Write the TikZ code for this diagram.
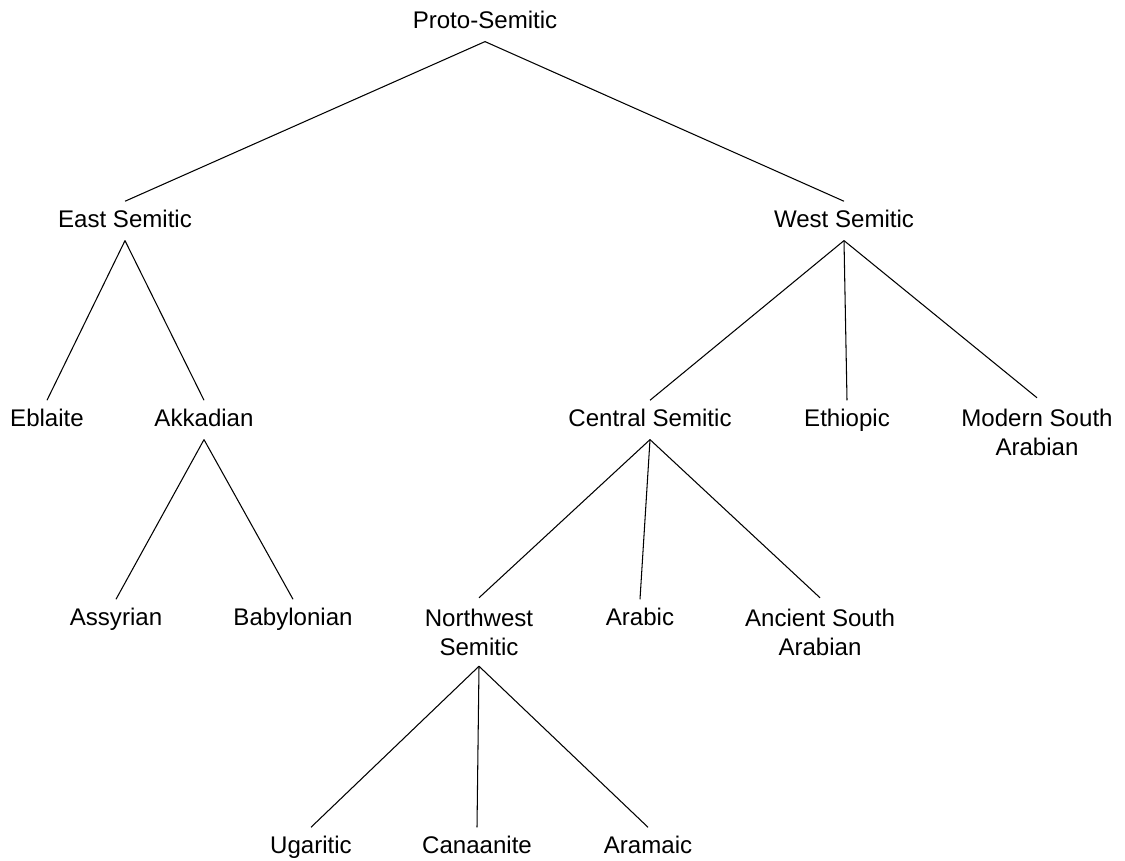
\documentclass[tikz,border=0pt]{standalone}
\usepackage{fontspec}
\setmainfont{Liberation Sans}

\begin{document}
\begin{tikzpicture}[x=0.02cm, y=-0.02cm,
	lang/.style={inner xsep=2pt, inner ysep=4.5pt, text height=10pt, text depth=3pt, yshift=-1.1pt, font=\fontsize{13.7}{16.5}\selectfont},
	langtwo/.style={inner xsep=2pt, inner ysep=6pt, align=center, font=\fontsize{13.7}{16.5}\selectfont},
	branch/.style={line width=0.6pt}]
	\useasboundingbox (0,0) rectangle (1125,861);

	\node[lang] (proto) at (485,20) {Proto-Semitic};

	\node[lang] (east) at (125,219) {East Semitic};
	\node[lang] (west) at (844,219) {West Semitic};

	\node[lang] (eblaite) at (47,418) {Eblaite};
	\node[lang] (akkadian) at (204,418) {Akkadian};
	\node[lang] (central) at (650,418) {Central Semitic};
	\node[lang] (ethiopic) at (847,418) {Ethiopic};
	\node[langtwo] (msa) at (1037,432) {Modern South\\Arabian};

	\node[lang] (assyrian) at (116,617) {Assyrian};
	\node[lang] (babylonian) at (293,617) {Babylonian};
	\node[langtwo] (northwest) at (479,632) {Northwest\\Semitic};
	\node[lang] (arabic) at (640,617) {Arabic};
	\node[langtwo] (asa) at (820,632) {Ancient South\\Arabian};

	\node[lang] (ugaritic) at (311,845) {Ugaritic};
	\node[lang] (canaanite) at (477,845) {Canaanite};
	\node[lang] (aramaic) at (648,845) {Aramaic};

	\draw[branch] (proto.south) -- (east.north);
	\draw[branch] (proto.south) -- (west.north);

	\draw[branch] (east.south) -- (eblaite.north);
	\draw[branch] (east.south) -- (akkadian.north);

	\draw[branch] (akkadian.south) -- (assyrian.north);
	\draw[branch] (akkadian.south) -- (babylonian.north);

	\draw[branch] (west.south) -- (central.north);
	\draw[branch] (west.south) -- (ethiopic.north);
	\draw[branch] (west.south) -- (msa.north);

	\draw[branch] (central.south) -- (northwest.north);
	\draw[branch] (central.south) -- (arabic.north);
	\draw[branch] (central.south) -- (asa.north);

	\draw[branch] (northwest.south) -- (ugaritic.north);
	\draw[branch] (northwest.south) -- (canaanite.north);
	\draw[branch] (northwest.south) -- (aramaic.north);

\end{tikzpicture}
\end{document}
